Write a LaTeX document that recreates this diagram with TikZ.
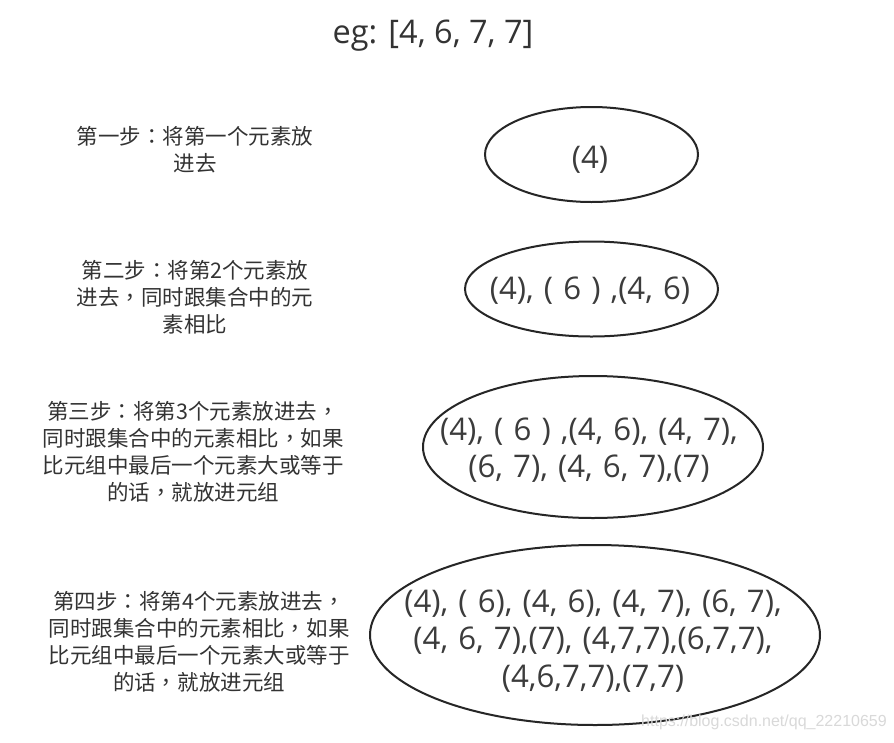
\documentclass[tikz,border=0pt]{standalone}
\usepackage{fontspec}
\setmainfont{Open Sans}[WordSpace=1.25]
\newfontfamily\titlefont{Open Sans}
\newfontfamily\cjk{Noto Sans CJK SC}
\newfontfamily\cjkpunct{Noto Sans CJK TC}
\newfontfamily\wmfont{Liberation Sans}
\newcommand\zhcolon{{\cjkpunct ：}}
\newcommand\zhcomma{{\cjkpunct ，}}
\definecolor{txt}{HTML}{333333}
\definecolor{settxt}{HTML}{3C3C3C}
\definecolor{ringcol}{HTML}{262626}
\begin{document}
\begin{tikzpicture}[x=1pt,y=-1pt,
  ring/.style={draw=ringcol, line width=2pt},
  steplabel/.style={align=center, font=\cjk\fontsize{21.5}{27}\selectfont, text=txt, inner sep=0pt},
  settext/.style={align=center, font=\fontsize{31.2}{37.5}\selectfont, text=settxt, inner sep=0pt},
  titletext/.style={font=\titlefont\fontsize{32.5}{36}\selectfont, text=txt, inner sep=0pt},
  watermark/.style={font=\wmfont\fontsize{16}{16}\selectfont, text=gray!30, inner sep=0pt}]
\useasboundingbox (0,0) rectangle (894,742);
\fill[white] (0,0) rectangle (894,742);

\node[titletext] (title) at (433,36) {eg: [4, 6, 7, 7]};

% step labels
\node[steplabel] (s1) at (195,149.5) {第一步\zhcolon 将第一个元素放\\进去};
\node[steplabel] (s2) at (195,297) {第二步\zhcolon 将第2个元素放\\进去\zhcomma 同时跟集合中的元\\素相比};
\node[steplabel] (s3) at (193,451.5) {第三步\zhcolon 将第3个元素放进去\zhcomma\\同时跟集合中的元素相比\zhcomma 如果\\比元组中最后一个元素大或等于\\的话\zhcomma 就放进元组};
\node[steplabel] (s4) at (199,642) {第四步\zhcolon 将第4个元素放进去\zhcomma\\同时跟集合中的元素相比\zhcomma 如果\\比元组中最后一个元素大或等于\\的话\zhcomma 就放进元组};

% ellipse centres
\coordinate (e1) at (591.5,154.5);
\coordinate (e2) at (591.5,289);
\coordinate (e3) at (593,447);
\coordinate (e4) at (595,635);

\draw[ring] (e1) ellipse [x radius=106.5pt, y radius=47.5pt];
\draw[ring] (e2) ellipse [x radius=126.5pt, y radius=47.5pt];
\draw[ring] (e3) ellipse [x radius=170pt, y radius=71pt];
\draw[ring] (e4) ellipse [x radius=225pt, y radius=90pt];

\node[settext] (t1) at (590,160) {(4)};
\node[settext] (t2) at (590,291) {(4), ( 6 ) ,(4, 6)};
\node[settext] (t3) at (589,450) {(4), ( 6 ) ,(4, 6), (4, 7),\\(6, 7), (4, 6, 7),(7)};
\node[settext] (t4) at (593,641) {(4), ( 6), (4, 6), (4, 7), (6, 7),\\(4, 6, 7),(7), (4,7,7),(6,7,7),\\(4,6,7,7),(7,7)};

\node[watermark] (wm) at (764,722) {https://blog.csdn.net/qq\_22210659};
\end{tikzpicture}
\end{document}
